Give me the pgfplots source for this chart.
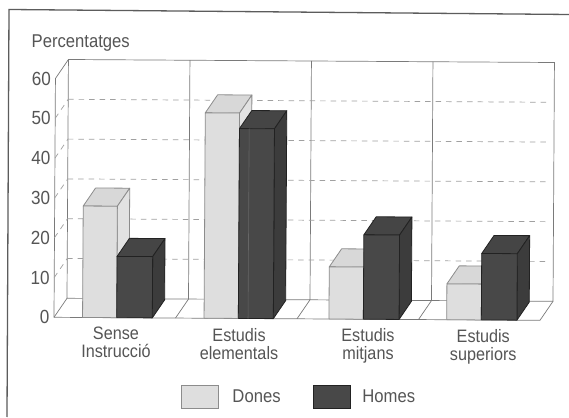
\documentclass[border=0pt]{standalone}
\usepackage{pgfplots}
\usepackage{fontspec}
\setmainfont[FakeStretch=0.9]{Liberation Sans}
\pgfplotsset{compat=1.18}
\definecolor{ink}{HTML}{555555}
\definecolor{frameline}{HTML}{5C5C5C}
\definecolor{wall}{HTML}{7A7A7A}
\definecolor{gridline}{HTML}{A0A0A0}
\definecolor{lightfront}{HTML}{DEDEDE}
\definecolor{lighttop}{HTML}{D8D8D8}
\definecolor{lightside}{HTML}{E2E2E2}
\definecolor{lightedge}{HTML}{8C8C8C}
\definecolor{darkfront}{HTML}{484848}
\definecolor{darktop}{HTML}{454545}
\definecolor{darkside}{HTML}{3C3C3C}
\definecolor{darkedge}{HTML}{222222}

% One bar of the chart: x range, value, then the colours of its three faces and edges
\newcommand{\barbox}[7]{%
  \addplot3[forget plot,fill=#4,draw=#7,line width=0.8pt,line join=round]
    coordinates {(#1,0.95,#3)(#2,0.95,#3)(#2,0,#3)(#1,0,#3)(#1,0.95,#3)};
  \addplot3[forget plot,fill=#5,draw=#7,line width=0.8pt,line join=round]
    coordinates {(#2,0,0)(#2,0.95,0)(#2,0.95,#3)(#2,0,#3)(#2,0,0)};
  \addplot3[forget plot,fill=#6,draw=#7,line width=0.8pt,line join=round]
    coordinates {(#1,0,0)(#2,0,0)(#2,0,#3)(#1,0,#3)(#1,0,0)};
}
\newcommand{\lightbar}[3]{\barbox{#1}{#2}{#3}{lighttop}{lightside}{lightfront}{lightedge}}
\newcommand{\darkbar}[3]{\barbox{#1}{#2}{#3}{darktop}{darkside}{darkfront}{darkedge}}
\newcommand{\wallline}[1]{\addplot3[forget plot,draw=wall,line width=0.7pt] coordinates {#1};}
\newcommand{\gridline}[1]{\addplot3[forget plot,draw=gridline,line width=0.7pt,dash pattern=on 5.5pt off 5pt] coordinates {#1};}

\begin{document}
\begin{tikzpicture}
\path[use as bounding box] (0,0) rectangle (569pt,417pt);
\fill[white] (0,0) rectangle (569pt,417pt);
% page frame
\draw[frameline,line width=1.3pt] (7pt,0pt) -- (9pt,407.5pt) -- (569pt,402.5pt);
\node[anchor=west,text=ink,font=\fontsize{18.5}{19}\selectfont,inner sep=0pt] at (31.5pt,374pt) {Percentatges};
\begin{axis}[
  anchor=origin, at={(54pt,99.7pt)},
  x={(121.5pt,-0.75pt)}, y={(13pt,19pt)}, z={(0.024pt,3.98pt)},
  xmin=0, xmax=4, ymin=0, ymax=1, zmin=0, zmax=60,
  clip=false,
  axis lines*=left,
  axis line style={draw=none,-},
  major tick length=0pt,
  ytick=\empty,
  ztick={0,10,...,60},
  xtick={0.51,1.523,2.584,3.533},
  xticklabels={{Sense\\Instrucció},{Estudis\\elementals},{Estudis\\mitjans},{Estudis\\superiors}},
  /pgf/number format/assume math mode=true,
  tick label style={text=ink,font=\fontsize{18}{18}\selectfont},
  x tick label style={align=center,anchor=north,yshift=-6pt},
  z tick label style={anchor=east,xshift=-1pt,font=\fontsize{19}{19}\selectfont},
  legend columns=2,
  legend cell align=left,
  legend style={at={(axis cs:1.045,0,-19.8)},anchor=west,draw=none,fill=none,inner sep=0pt,
    font=\fontsize{18.5}{19}\selectfont,text=ink,
    /tikz/column 1/.style={column sep=12pt},
    /tikz/column 2/.style={column sep=30pt},
    /tikz/column 3/.style={column sep=10pt}},
  legend image code/.code={\draw[#1] (0pt,-11.5pt) rectangle (37pt,11.5pt);},
]
\addlegendimage{fill=lightfront,draw=lightedge,line width=0.8pt}
\addlegendentry{Dones}
\addlegendimage{fill=darkfront,draw=darkedge,line width=0.8pt}
\addlegendentry{Homes}

% back wall and floor
\wallline{(0,1,0)(4,1,0)(4,1,60)(0,1,60)(0,1,0)}
\wallline{(1,1,0)(1,1,60)}
\wallline{(2,1,0)(2,1,60)}
\wallline{(3,1,0)(3,1,60)}
\wallline{(0,0,0)(4,0,0)}
\wallline{(0,0,0)(0,1,0)}
\wallline{(1,0,0)(1,1,0)}
\wallline{(2,0,0)(2,1,0)}
\wallline{(3,0,0)(3,1,0)}
\wallline{(4,0,0)(4,1,0)}
\wallline{(0,0,0)(0,0,60)(0,1,60)}
% horizontal guides
\gridline{(0,1,10)(3.95,1,10)}
\gridline{(0,1,20)(3.95,1,20)}
\gridline{(0,1,30)(3.95,1,30)}
\gridline{(0,1,40)(3.95,1,40)}
\gridline{(0,1,50)(3.95,1,50)}
\gridline{(0,0,10)(0,1,10)}
\gridline{(0,0,20)(0,1,20)}
\gridline{(0,0,30)(0,1,30)}
\gridline{(0,0,40)(0,1,40)}
\gridline{(0,0,50)(0,1,50)}

% Dones, Homes by level of studies
\lightbar{0.235}{0.516}{28}
\darkbar{0.516}{0.809}{15.4}
\lightbar{1.235}{1.517}{51.6}
\darkbar{1.517}{1.805}{47.7}
% thin seam on the front face of the tall dark bar
\addplot3[forget plot,draw=black!60,line width=0.6pt] coordinates {(1.597,0,0)(1.597,0,47.7)};
\lightbar{2.263}{2.546}{13.1}
\darkbar{2.546}{2.84}{21.2}
\lightbar{3.232}{3.517}{9}
\darkbar{3.517}{3.81}{16.7}
\end{axis}
\end{tikzpicture}
\end{document}
